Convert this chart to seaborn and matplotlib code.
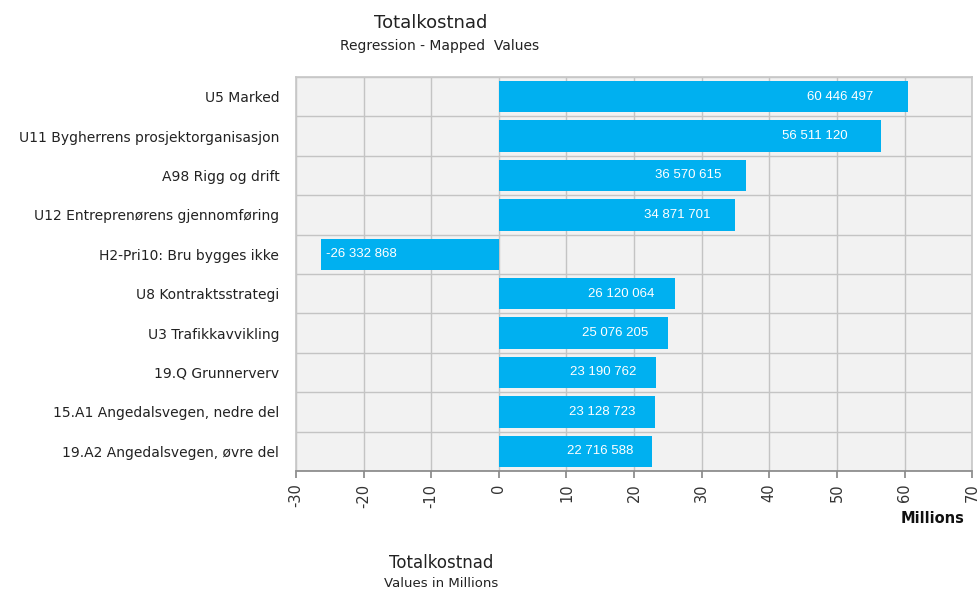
import matplotlib
matplotlib.use("Agg")
import matplotlib.pyplot as plt
import seaborn as sns
import pandas as pd
import numpy as np

categories = [
    "U5 Marked",
    "U11 Bygherrens prosjektorganisasjon",
    "A98 Rigg og drift",
    "U12 Entreprenørens gjennomføring",
    "H2-Pri10: Bru bygges ikke",
    "U8 Kontraktsstrategi",
    "U3 Trafikkavvikling",
    "19.Q Grunnerverv",
    "15.A1 Angedalsvegen, nedre del",
    "19.A2 Angedalsvegen, øvre del",
]
values = [60446497, 56511120, 36570615, 34871701, -26332868,
          26120064, 25076205, 23190762, 23128723, 22716588]
x_ticks = [-30, -20, -10, 0, 10, 20, 30, 40, 50, 60, 70]

sns.set_theme(style="white")
plt.rcParams["font.family"] = ["DejaVu Sans"]

df = pd.DataFrame({"driver": categories, "value": np.array(values) / 1e6})

fig = plt.figure(figsize=(9.8, 5.95), dpi=100)
ax = fig.add_axes([0.302, 0.2084, 0.690, 0.6622])
ax.set_facecolor("#f2f2f2")

sns.barplot(data=df, y="driver", x="value", orient="h", color="#00b0f0",
            width=0.8, saturation=1, linewidth=0, ax=ax, zorder=3)

ax.set_xlim(x_ticks[0], x_ticks[-1])
ax.set_ylim(len(categories) - 0.5, -0.5)
ax.set_xticks(x_ticks)
ax.set_xticklabels([str(t) for t in x_ticks], rotation=90, fontsize=10.5,
                   color="#333333")
ax.set_yticks(range(len(categories)))
ax.set_yticklabels(categories, fontsize=10, color="#222222")
ax.set_yticks(np.arange(len(categories) + 1) - 0.5, minor=True)
ax.set_xlabel("")
ax.set_ylabel("")

# grid: vertical at each major x tick, horizontal between categories
ax.grid(axis="x", which="major", color="#c4c4c4", linewidth=1, zorder=0)
ax.grid(axis="y", which="minor", color="#c4c4c4", linewidth=1, zorder=0)
ax.grid(axis="y", which="major", visible=False)
ax.set_axisbelow(True)
for s in ["top", "right", "left"]:
    ax.spines[s].set_color("#c8c8c8")
ax.spines["bottom"].set_color("#8a8a8a")
ax.tick_params(axis="x", which="major", direction="out", length=5,
               color="#8a8a8a", bottom=True, pad=4)
ax.tick_params(axis="y", which="both", length=0, pad=12)

# value labels inside the bars
label_font = ["Liberation Sans Narrow", "Liberation Sans", "DejaVu Sans"]
for i, v in enumerate(values):
    vm = v / 1e6
    txt = f"{v:,}".replace(",", " ")
    if v >= 0:
        ax.text(vm * 0.94 - 1.5, i, txt, ha="right", va="center",
                color="white", fontsize=9.5, family=label_font, zorder=5)
    else:
        ax.text(vm + 0.8, i, txt, ha="left", va="center",
                color="white", fontsize=9.5, family=label_font, zorder=5)

fig.text(0.984, 0.129, "Millions", ha="right", va="center",
         fontsize=10.5, fontweight="bold", color="#111111")

fig.text(0.439, 0.962, "Totalkostnad", ha="center", va="center",
         fontsize=13, color="#222222")
fig.text(0.449, 0.923, "Regression - Mapped  Values", ha="center",
         va="center", fontsize=10, color="#222222")
fig.text(0.450, 0.053, "Totalkostnad", ha="center", va="center",
         fontsize=12, color="#222222")
fig.text(0.450, 0.019, "Values in Millions", ha="center", va="center",
         fontsize=9.5, color="#222222")

fig.savefig("out.png", dpi=100, facecolor="white")
